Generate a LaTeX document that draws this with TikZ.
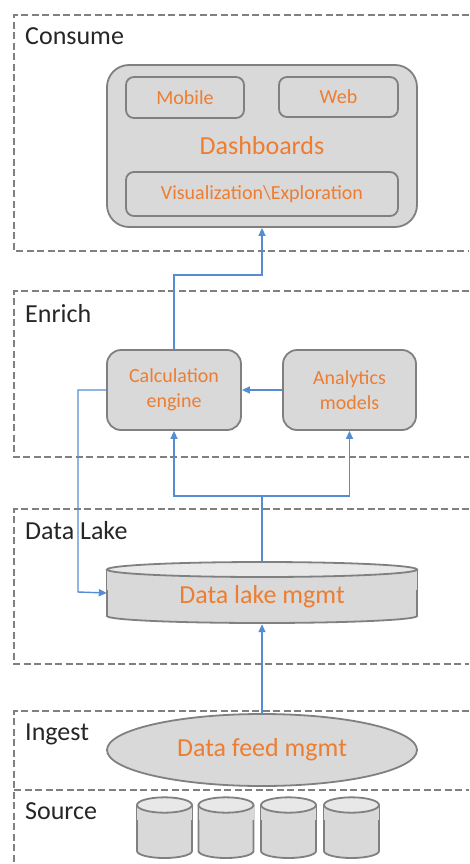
\documentclass[tikz,border=0pt]{standalone}
\usepackage{fontspec}
\setmainfont{Carlito}
\usetikzlibrary{arrows.meta,shapes.geometric}
\definecolor{flowblue}{RGB}{84,141,212}
\definecolor{boxgray}{RGB}{217,217,217}
\definecolor{topgray}{RGB}{232,232,232}
\definecolor{edgegray}{RGB}{128,128,128}
\definecolor{txtorange}{RGB}{237,125,49}
\definecolor{lanegray}{RGB}{128,128,128}
\tikzset{
  lane/.style={draw=lanegray, line width=1.8pt, dash pattern=on 7pt off 3.5pt},
  lanelabel/.style={anchor=base west, inner sep=0pt, text=black!85, font=\fontsize{26}{30}\selectfont},
  panel/.style={draw=edgegray, fill=boxgray, line width=1.8pt, inner sep=0pt},
  smalltxt/.style={text=txtorange, font=\fontsize{20}{25}\selectfont, align=center},
  bigtxt/.style={text=txtorange, font=\fontsize{26}{30}\selectfont},
  flow/.style={draw=flowblue, line width=1.4pt, -{Triangle[length=8pt,width=7pt]}},
  flowline/.style={draw=flowblue, line width=1.4pt},
}
\begin{document}
\begin{tikzpicture}[x=1pt,y=-1pt]
\useasboundingbox (0,0) rectangle (469,864);

% layer frames (open on the right)
\draw[lane] (469,15) -- (14,15) -- (14,251) -- (469,251);
\draw[lane] (469,291) -- (14,291) -- (14,457) -- (469,457);
\draw[lane] (469,509) -- (14,509) -- (14,664) -- (469,664);
\draw[lane] (469,711) -- (14,711) -- (14,870);
\draw[lane] (14,790) -- (469,790);

% layer labels
\node[lanelabel] (lblcons) at (25,45) {Consume};
\node[lanelabel] (lblenr) at (25,322) {Enrich};
\node[lanelabel] (lbllake) at (25,539) {Data Lake};
\node[lanelabel] (lbling) at (25,740) {Ingest};
\node[lanelabel] (lblsrc) at (25,819) {Source};

% consume: dashboards panel
\node[panel, rounded corners=22pt, minimum width=310pt, minimum height=162pt] (dash) at (262,146) {};
\node[bigtxt] (dashtxt) at (262,146) {Dashboards};
\node[panel, rounded corners=8pt, minimum width=118pt, minimum height=41pt, smalltxt] (mobile) at (185,97.5) {Mobile};
\node[panel, rounded corners=8pt, minimum width=119pt, minimum height=40pt, smalltxt] (web) at (338.5,97) {Web};
\node[panel, rounded corners=8pt, minimum width=272pt, minimum height=44pt, smalltxt] (viz) at (262,194) {Visualization\textbackslash Exploration};

% enrich
\node[panel, rounded corners=14pt, minimum width=134pt, minimum height=80pt, smalltxt] (calc) at (174,390) {Calculation\\engine};
\node[panel, rounded corners=14pt, minimum width=133pt, minimum height=80pt, smalltxt] (ana) at (349.5,390) {Analytics\\models};

% data lake store (cylinder)
\node[minimum width=310pt, minimum height=62pt, inner sep=0pt] (lake) at (262,593) {};
\draw[draw=edgegray, fill=boxgray, line width=1.8pt]
  (107,569.5) -- (107,616) arc[start angle=180, end angle=360, x radius=155pt, y radius=7pt] -- (417,569.5);
\fill[boxgray] (107,569.5) rectangle (417,590);
\draw[draw=edgegray, fill=topgray, line width=1.8pt] (262,569.5) ellipse[x radius=155pt, y radius=7.5pt];
\node[bigtxt] (laketxt) at (262,597) {Data lake mgmt};

% ingest
\node[panel, ellipse, minimum width=310pt, minimum height=72pt, bigtxt] (feed) at (262,750) {Data feed mgmt};

% sources
\foreach \cx [count=\i] in {164.5,226,288.5,351.5} {
  \draw[draw=edgegray, fill=boxgray, line width=1.8pt]
    (\cx-27.5,805) -- (\cx-27.5,851) arc[start angle=180, end angle=360, x radius=27.5pt, y radius=7pt] -- (\cx+27.5,805);
  \fill[boxgray] (\cx-27.5,805) rectangle (\cx+27.5,820);
  \draw[draw=edgegray, fill=topgray, line width=1.8pt] (\cx,805) ellipse[x radius=27.5pt, y radius=7.7pt];
  \node[inner sep=0pt, minimum width=55pt, minimum height=61pt] (src\i) at (\cx,828) {};
}

% connectors
\coordinate (up1) at (262,275);
\coordinate (down1) at (78,592);
\coordinate (split) at (262,496);
\draw[flow] (calc.north) |- (up1) -- (dash.south);
\draw[flow] (ana.west) -- (calc.east);
\draw[flow] (calc.west) -| (down1) -- (lake.west);
\draw[flowline] (lake.north) -- (split);
\draw[flow] (split) -| (calc.south);
\draw[flow] (split) -| (ana.south);
\draw[flow] (feed.north) -- (lake.south);
\end{tikzpicture}
\end{document}
